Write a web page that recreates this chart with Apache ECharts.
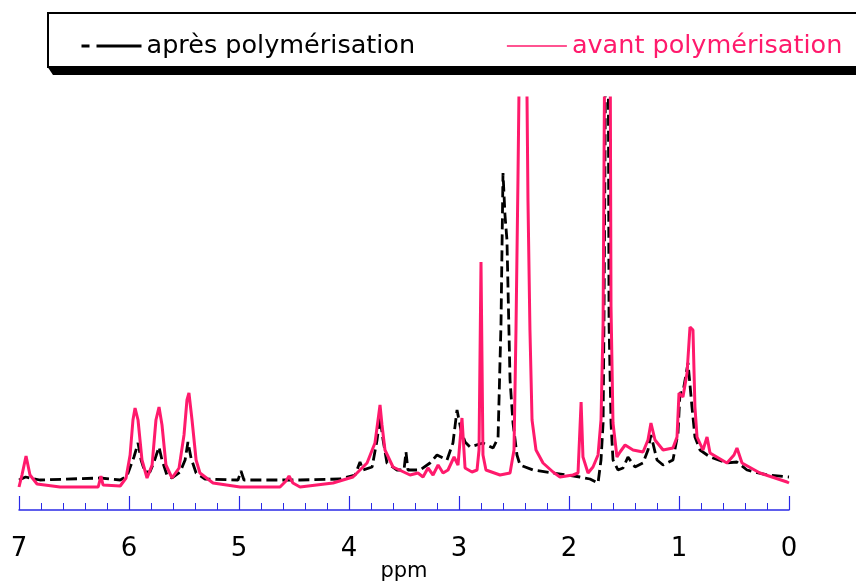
<!DOCTYPE html>
<html>
<head>
<meta charset="utf-8">
<script src="https://cdn.jsdelivr.net/npm/echarts@6/dist/echarts.min.js"></script>
<style>
  html, body { margin: 0; padding: 0; background: #fff; }
  #chart { width: 856px; height: 583px; }
</style>
</head>
<body>
<div id="chart"></div>
<script>
// 1H NMR spectra, chemical shift in ppm (axis runs from 7 down to 0)
const xTicks = [0, 1, 2, 3, 4, 5, 6, 7];

// après polymérisation (dashed black)
const apresPpm = [7.00, 6.94, 6.81, 6.26, 6.08, 6.018, 5.982, 5.955, 5.918, 5.89, 5.855, 5.81, 5.773, 5.727, 5.70, 5.655,
  5.609, 5.536, 5.49, 5.464, 5.436, 5.39, 5.309, 5.009, 4.982, 4.955, 4.445, 4.082, 3.945, 3.90, 3.873, 3.79,
  3.745, 3.718, 3.69, 3.655, 3.564, 3.50, 3.482, 3.464, 3.355, 3.264, 3.20, 3.109, 3.055, 3.018, 2.982, 2.945,
  2.90, 2.782, 2.69, 2.645, 2.618, 2.60, 2.582, 2.564, 2.536, 2.509, 2.473, 2.445, 2.327, 2.145, 1.90, 1.809,
  1.736, 1.709, 1.69, 1.682, 1.664, 1.645, 1.636, 1.618, 1.60, 1.555, 1.509, 1.464, 1.40, 1.327, 1.282, 1.255,
  1.20, 1.145, 1.055, 1.009, 0.991, 0.964, 0.918, 0.882, 0.855, 0.809, 0.718, 0.564, 0.473, 0.382, 0.20, 0.00];
const apresInt = [10, 13, 10, 12, 10, 14, 25, 33, 47, 30, 18, 18, 28, 43, 30, 15,
  12, 18, 30, 48, 32, 17, 11, 10, 19, 10, 10, 11, 15, 28, 20, 23,
  50, 73, 50, 27, 20, 20, 38, 20, 20, 27, 35, 30, 47, 80, 60, 48,
  43, 47, 42, 52, 167, 317, 275, 250, 110, 67, 35, 25, 20, 17, 13, 11,
  7, 30, 67, 167, 490, 520, 167, 67, 30, 20, 22, 33, 23, 27, 40, 55,
  30, 25, 30, 57, 97, 98, 127, 83, 53, 40, 33, 27, 28, 20, 15, 13];

// avant polymérisation (solid pink)
const avantPpm = [7.00, 6.973, 6.936, 6.90, 6.836, 6.627, 6.28, 6.255, 6.236, 6.08, 6.027, 5.99, 5.964, 5.945, 5.918, 5.882,
  5.836, 5.79, 5.755, 5.727, 5.70, 5.664, 5.609, 5.545, 5.50, 5.473, 5.455, 5.427, 5.39, 5.355, 5.236, 4.99,
  4.627, 4.573, 4.545, 4.51, 4.445, 4.145, 3.964, 3.836, 3.764, 3.736, 3.718, 3.70, 3.673, 3.60, 3.445, 3.373,
  3.327, 3.282, 3.236, 3.19, 3.145, 3.10, 3.045, 3.009, 2.973, 2.945, 2.882, 2.836, 2.818, 2.80, 2.782, 2.755,
  2.627, 2.536, 2.50, 2.482, 2.464, 2.445, 2.418, 2.39, 2.373, 2.355, 2.336, 2.30, 2.236, 2.145, 2.082, 1.964,
  1.918, 1.89, 1.873, 1.827, 1.782, 1.736, 1.709, 1.69, 1.673, 1.645, 1.627, 1.618, 1.60, 1.564, 1.536, 1.49,
  1.418, 1.327, 1.282, 1.255, 1.218, 1.145, 1.055, 1.018, 1.00, 0.964, 0.927, 0.90, 0.873, 0.855, 0.836, 0.782,
  0.745, 0.718, 0.564, 0.50, 0.473, 0.427, 0.264, 0.018, 0.00];
const avantInt = [3, 15, 34, 15, 6, 3, 3, 14, 5, 4, 12, 35, 70, 82, 70, 30,
  12, 25, 70, 83, 65, 25, 12, 22, 55, 90, 97, 70, 30, 17, 7, 3,
  3, 9, 14, 7, 3, 7, 13, 27, 47, 70, 85, 65, 40, 23, 15, 17,
  13, 22, 15, 25, 17, 20, 33, 25, 72, 22, 18, 20, 40, 228, 35, 20,
  15, 17, 40, 160, 310, 490, 430, 490, 290, 160, 70, 40, 27, 18, 13, 15,
  17, 88, 33, 17, 23, 35, 70, 167, 490, 540, 490, 183, 67, 33, 38, 45,
  40, 38, 50, 67, 50, 40, 42, 53, 97, 93, 117, 163, 160, 83, 53, 40,
  53, 37, 27, 35, 42, 27, 17, 8, 7];

const labelApres = 'après polymérisation';
const labelAvant = 'avant polymérisation';
const pink = '#ff1a6c';
const axisBlue = '#2a2ae6';
const font = 'DejaVu Sans';

const pairs = (xs, ys) => xs.map((x, i) => [x, ys[i]]);

const chart = echarts.init(document.getElementById('chart'), null, { renderer: 'canvas' });
chart.setOption({
  backgroundColor: '#fff',
  animation: false,
  graphic: [
    // legend frame: drop shadow, then white box with black border
    { type: 'polygon', z: 0, shape: { points: [[47, 66], [870, 66], [870, 75], [53, 75]] },
      style: { fill: '#000' } },
    { type: 'rect', z: 1, shape: { x: 48, y: 13, width: 830, height: 54 },
      style: { fill: '#fff', stroke: '#000', lineWidth: 2 } }
  ],
  legend: {
    z: 5,
    left: 80,
    top: 33,
    width: 790,
    padding: 0,
    itemWidth: 60,
    itemHeight: 14,
    itemGap: 91,
    itemStyle: { opacity: 0, borderWidth: 0 },
    textStyle: { fontFamily: font, fontSize: 25.5 },
    data: [
      { name: labelApres, textStyle: { color: '#000', fontFamily: font, fontSize: 25.5 },
        itemStyle: { opacity: 0, borderWidth: 0 },
        lineStyle: { type: [8, 7, 45, 10], width: 3 } },
      { name: labelAvant, textStyle: { color: pink, fontFamily: font, fontSize: 25.5 },
        itemStyle: { opacity: 0, borderWidth: 0 },
        lineStyle: { width: 1.5 } }
    ]
  },
  grid: { left: 19, right: 67, top: 98, bottom: 93, outerBoundsMode: 'none', containLabel: false },
  xAxis: {
    type: 'value',
    min: 0,
    max: 7,
    interval: 1,
    inverse: true,
    offset: 20,
    name: 'ppm',
    nameLocation: 'middle',
    nameGap: 51,
    nameMoveOverlap: false,
    nameTextStyle: { fontFamily: font, fontSize: 21, color: '#000' },
    axisLine: { show: true, onZero: false, lineStyle: { color: axisBlue, width: 1.5 } },
    axisTick: { show: true, inside: true, length: 14, lineStyle: { color: axisBlue, width: 1.2 } },
    minorTick: { show: true, splitNumber: 5, length: 7, lineStyle: { color: axisBlue, width: 1 } },
    splitLine: { show: false },
    minorSplitLine: { show: false },
    axisLabel: {
      fontFamily: font, fontSize: 26, color: '#000', margin: 26,
      formatter: v => xTicks.includes(v) ? String(v) : ''
    }
  },
  yAxis: { type: 'value', min: 0, max: 392, show: false },
  series: [
    {
      name: labelApres,
      type: 'line',
      data: pairs(apresPpm, apresInt),
      showSymbol: false,
      symbol: 'none',
      clip: true,
      lineStyle: { color: '#000', width: 2.8, type: [11, 5] },
      itemStyle: { color: '#000' }
    },
    {
      name: labelAvant,
      type: 'line',
      data: pairs(avantPpm, avantInt),
      showSymbol: false,
      symbol: 'none',
      clip: true,
      lineStyle: { color: pink, width: 3 },
      itemStyle: { color: pink }
    }
  ]
});
</script>
</body>
</html>
